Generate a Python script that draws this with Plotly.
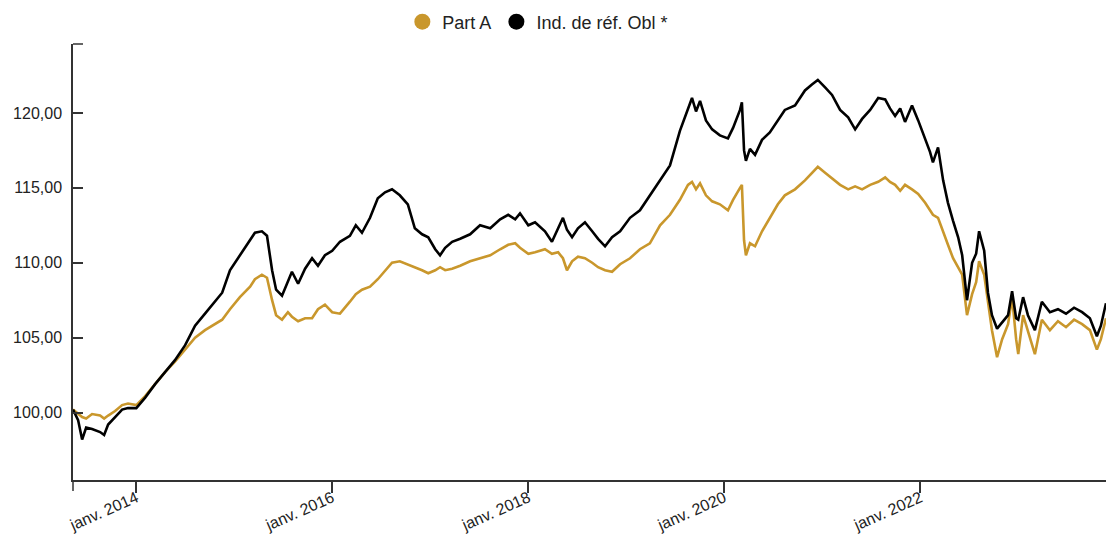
import plotly.graph_objects as go

dates = [
    "2013-05-10", "2013-05-29", "2013-06-13", "2013-06-28", "2013-07-20", "2013-08-19", "2013-09-03", "2013-09-18",
    "2013-10-14", "2013-11-09", "2013-12-01", "2014-01-01", "2014-02-03", "2014-03-12", "2014-04-18", "2014-05-25",
    "2014-07-02", "2014-08-08", "2014-09-14", "2014-10-21", "2014-11-17", "2014-12-16", "2015-01-22", "2015-03-01",
    "2015-03-19", "2015-04-14", "2015-05-03", "2015-05-22", "2015-06-06", "2015-06-28", "2015-07-20", "2015-08-04",
    "2015-08-27", "2015-09-22", "2015-10-18", "2015-11-09", "2015-12-05", "2016-01-01", "2016-01-30", "2016-03-07",
    "2016-03-29", "2016-04-21", "2016-05-21", "2016-06-19", "2016-07-16", "2016-08-11", "2016-09-09", "2016-10-09",
    "2016-11-04", "2016-12-01", "2016-12-24", "2017-01-19", "2017-02-06", "2017-02-25", "2017-03-23", "2017-04-22",
    "2017-05-29", "2017-07-05", "2017-08-12", "2017-09-18", "2017-10-18", "2017-11-13", "2017-12-01", "2018-01-01",
    "2018-01-26", "2018-03-04", "2018-03-30", "2018-04-22", "2018-05-10", "2018-05-25", "2018-06-13", "2018-07-05",
    "2018-07-31", "2018-08-27", "2018-09-18", "2018-10-14", "2018-11-09", "2018-12-09", "2019-01-15", "2019-02-21",
    "2019-03-30", "2019-05-07", "2019-06-13", "2019-07-20", "2019-08-19", "2019-09-03", "2019-09-18", "2019-10-03",
    "2019-10-25", "2019-11-17", "2019-12-16", "2020-01-15", "2020-02-03", "2020-02-29", "2020-03-07", "2020-03-15",
    "2020-03-22", "2020-04-06", "2020-04-25", "2020-05-21", "2020-06-19", "2020-07-19", "2020-08-14", "2020-09-21",
    "2020-10-28", "2020-11-23", "2020-12-15", "2021-01-11", "2021-02-06", "2021-03-08", "2021-04-07", "2021-05-03",
    "2021-05-29", "2021-06-28", "2021-07-28", "2021-08-23", "2021-09-10", "2021-09-29", "2021-10-18", "2021-11-05",
    "2021-12-01", "2021-12-24", "2022-01-19", "2022-02-06", "2022-02-17", "2022-03-08", "2022-03-27", "2022-04-14",
    "2022-05-03", "2022-05-22", "2022-06-06", "2022-06-24", "2022-07-13", "2022-07-28", "2022-08-08", "2022-08-27",
    "2022-09-10", "2022-09-25", "2022-10-14", "2022-11-02", "2022-11-24", "2022-12-09", "2022-12-24", "2023-01-01",
    "2023-01-19", "2023-02-06", "2023-03-04", "2023-03-30", "2023-04-29", "2023-05-29", "2023-06-28", "2023-07-28",
    "2023-08-27", "2023-09-25", "2023-10-21", "2023-11-05", "2023-11-24",
]

part_a = [
    100.2, 99.9, 99.7, 99.6, 99.9, 99.8, 99.6, 99.8,
    100.1, 100.5, 100.6, 100.5, 101.1, 101.9, 102.7, 103.4,
    104.2, 105.0, 105.5, 105.9, 106.2, 106.9, 107.7, 108.4,
    108.9, 109.2, 109.0, 107.5, 106.5, 106.2, 106.7, 106.4,
    106.1, 106.3, 106.3, 106.9, 107.2, 106.7, 106.6, 107.4,
    107.9, 108.2, 108.4, 108.9, 109.5, 110.0, 110.1, 109.9,
    109.7, 109.5, 109.3, 109.5, 109.7, 109.5, 109.6, 109.8,
    110.1, 110.3, 110.5, 110.9, 111.2, 111.3, 111.0, 110.6,
    110.7, 110.9, 110.6, 110.7, 110.3, 109.5, 110.1, 110.4,
    110.3, 110.0, 109.7, 109.5, 109.4, 109.9, 110.3, 110.9,
    111.3, 112.5, 113.2, 114.2, 115.2, 115.4, 114.9, 115.3,
    114.5, 114.1, 113.9, 113.5, 114.2, 115.0, 115.2, 111.5,
    110.5, 111.3, 111.1, 112.1, 113.0, 113.9, 114.5, 114.9,
    115.5, 116.0, 116.4, 116.0, 115.6, 115.2, 114.9, 115.1,
    114.9, 115.2, 115.4, 115.7, 115.4, 115.2, 114.8, 115.2,
    114.9, 114.6, 114.0, 113.5, 113.2, 113.0, 112.0, 111.2,
    110.3, 109.7, 109.2, 106.5, 107.9, 108.7, 110.1, 109.2,
    107.5, 105.5, 103.7, 104.9, 105.9, 107.7, 104.9, 103.9,
    106.5, 105.5, 103.9, 106.2, 105.5, 106.1, 105.7, 106.2,
    105.9, 105.5, 104.2, 104.9, 106.3,
]

ind_ref = [
    100.2, 99.5, 98.2, 99.0, 98.9, 98.7, 98.5, 99.2,
    99.7, 100.2, 100.3, 100.3, 101.0, 101.9, 102.7, 103.5,
    104.5, 105.8, 106.6, 107.4, 108.0, 109.5, 110.5, 111.5,
    112.0, 112.1, 111.8, 109.5, 108.2, 107.8, 108.8, 109.4,
    108.6, 109.6, 110.3, 109.8, 110.5, 110.8, 111.4, 111.8,
    112.5, 112.0, 113.0, 114.3, 114.7, 114.9, 114.5, 113.9,
    112.3, 111.9, 111.7, 110.9, 110.5, 111.0, 111.4, 111.6,
    111.9, 112.5, 112.3, 112.9, 113.2, 112.9, 113.3, 112.5,
    112.7, 112.1, 111.4, 112.3, 113.0, 112.2, 111.7, 112.3,
    112.7, 112.1, 111.6, 111.1, 111.7, 112.1, 113.0, 113.5,
    114.5, 115.5, 116.5, 118.8, 120.2, 121.0, 120.1, 120.8,
    119.5, 118.9, 118.5, 118.3, 119.0, 120.2, 120.7, 117.5,
    116.8, 117.6, 117.2, 118.2, 118.7, 119.5, 120.2, 120.5,
    121.5, 121.9, 122.2, 121.7, 121.2, 120.2, 119.7, 118.9,
    119.6, 120.2, 121.0, 120.9, 120.3, 119.8, 120.3, 119.4,
    120.5, 119.5, 118.2, 117.4, 116.7, 117.7, 115.5, 114.0,
    112.8, 111.7, 110.5, 107.5, 110.0, 110.6, 112.1, 110.8,
    108.0, 106.5, 105.6, 106.0, 106.5, 108.1, 106.3, 106.2,
    107.7, 106.5, 105.5, 107.4, 106.7, 106.9, 106.6, 107.0,
    106.7, 106.3, 105.1, 105.8, 107.3,
]

series_names = ["Part A", "Ind. de réf. Obl *"]
series_colors = ["#C9972C", "#000000"]

tick_dates = ["2014-01-01", "2016-01-01", "2018-01-01", "2020-01-01", "2022-01-01"]
tick_labels = ["janv. 2014", "janv. 2016", "janv. 2018", "janv. 2020", "janv. 2022"]
y_ticks = [100, 105, 110, 115, 120]

FONT = "Liberation Sans, Arial, sans-serif"
TXT = "#222222"
AX = "#333333"

fig = go.Figure()

fig.add_trace(go.Scatter(x=dates, y=part_a, mode="lines", name=series_names[0],
                         line=dict(color=series_colors[0], width=2.6), showlegend=False))
fig.add_trace(go.Scatter(x=dates, y=ind_ref, mode="lines", name=series_names[1],
                         line=dict(color=series_colors[1], width=2.6), showlegend=False))

# legend entries (circle markers)
for nm, col in zip(series_names, series_colors):
    fig.add_trace(go.Scatter(x=[None], y=[None], mode="markers", name=nm,
                             marker=dict(color=col, size=22, symbol="circle")))

W, H = 1106, 537
ml, mr, mt, mb = 73, 0, 44, 57
pw = W - ml - mr
ph = H - mt - mb

fig.update_layout(
    width=W, height=H,
    margin=dict(l=ml, r=mr, t=mt, b=mb, pad=0, autoexpand=False),
    paper_bgcolor="white", plot_bgcolor="white",
    separators=",.",
    font=dict(family=FONT, size=16, color=TXT),
    showlegend=True,
    legend=dict(orientation="h", x=0.45, xanchor="center", y=1 + 22 / ph, yanchor="middle",
                font=dict(family=FONT, size=18, color=TXT), itemwidth=30,
                bgcolor="rgba(0,0,0,0)", traceorder="normal"),
    xaxis=dict(
        type="date", range=["2013-05-10", "2023-11-24"], automargin=False,
        tickmode="array", tickvals=tick_dates, ticktext=tick_labels,
        tickangle=-24, ticks="outside", ticklen=11, tickwidth=1.5, tickcolor=AX,
        showline=True, linecolor=AX, linewidth=1.5, showgrid=False, zeroline=False,
        tickfont=dict(family=FONT, size=16, color=TXT), ticklabelstandoff=-10,
    ),
    yaxis=dict(
        range=[95.5, 124.6], automargin=False,
        tickmode="array", tickvals=y_ticks, tickformat=".2f",
        ticks="inside", ticklen=10, tickwidth=1.5, tickcolor=AX,
        showline=True, linecolor=AX, linewidth=1.5, showgrid=False, zeroline=False,
        tickfont=dict(family=FONT, size=16, color=TXT), ticklabelstandoff=6,
    ),
    shapes=[
        dict(type="line", xref="paper", yref="paper", x0=0, x1=10 / pw, y0=1, y1=1,
             line=dict(color=AX, width=1.5)),
        dict(type="line", xref="paper", yref="paper", x0=0, x1=0, y0=0, y1=-11 / ph,
             line=dict(color=AX, width=1.5)),
    ],
)

fig.write_html(
    "out.html",
    config={"displayModeBar": False},
    post_script="document.body.style.margin='0';document.body.style.padding='0';"
                "document.body.style.overflow='hidden';",
)
